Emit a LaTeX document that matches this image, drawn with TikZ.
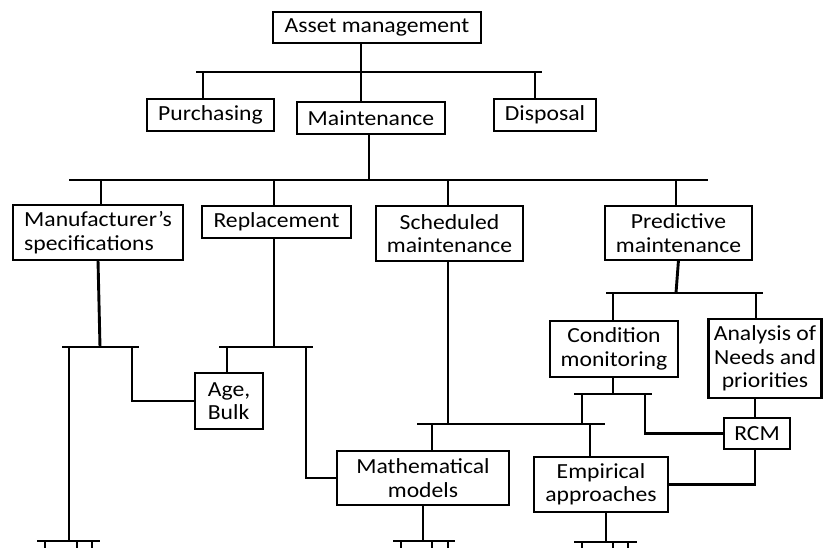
\documentclass[tikz,border=0pt]{standalone}
\usepackage{fontspec}
\setmainfont{Carlito}[FakeStretch=1.1]
\begin{document}
\begin{tikzpicture}[x=1pt,y=-1pt,
  box/.style={draw, line width=2.9pt, inner sep=0pt, outer sep=0pt, align=center,
              font=\fontsize{21.5}{23.5}\selectfont},
  link/.style={line width=2.9pt},
]
\useasboundingbox (0,0) rectangle (823,548);
\fill[white] (0,0) rectangle (823,548);

% boxes
\node[box, minimum width=208pt, minimum height=31pt] (asset) at (377,27.5) {Asset management};
\node[box, minimum width=127pt, minimum height=32pt] (purch) at (210.5,115) {Purchasing};
\node[box, minimum width=148pt, minimum height=32pt] (maint) at (371,118) {Maintenance};
\node[box, minimum width=102pt, minimum height=32pt] (disp) at (545,115) {Disposal};
\node[box, minimum width=170pt, minimum height=55pt, align=left] (manu) at (98,232.5) {Manufacturer’s\\specifications};
\node[box, minimum width=149pt, minimum height=32pt] (repl) at (276.5,222) {Replacement};
\node[box, minimum width=147pt, minimum height=55pt] (sched) at (449.5,233.5) {Scheduled\\maintenance};
\node[box, minimum width=147pt, minimum height=54pt] (pred) at (678.5,233) {Predictive\\maintenance};
\node[box, minimum width=128pt, minimum height=56pt] (cond) at (614,349) {Condition\\monitoring};
\node[box, minimum width=113pt, minimum height=79pt] (anal) at (765,358.5) {Analysis of\\Needs and\\priorities};
\node[box, minimum width=68pt, minimum height=56pt, align=left] (age) at (229,401) {Age,\\Bulk};
\node[box, minimum width=172pt, minimum height=54pt] (math) at (423,478) {Mathematical\\models};
\node[box, minimum width=134pt, minimum height=55pt] (emp) at (601,484.5) {Empirical\\approaches};
\node[box, minimum width=66pt, minimum height=31pt] (rcm) at (757,433.5) {RCM};

% junction points
\coordinate (L1a) at (196,72);  \coordinate (L1b) at (542,72);
\coordinate (L1m) at (361,72);  \coordinate (L1p) at (203,72);  \coordinate (L1d) at (535,72);
\coordinate (L2a) at (69,180);  \coordinate (L2b) at (708,180);
\coordinate (L2m) at (369,180);
\coordinate (L2f) at (101,180); \coordinate (L2r) at (274,180);
\coordinate (L2s) at (448,180); \coordinate (L2p) at (676,180);
\coordinate (M3) at (100,347);  \coordinate (M3a) at (62,347);  \coordinate (M3b) at (139,347);
\coordinate (M3l) at (69,347);  \coordinate (M3r) at (132,347);
\coordinate (R3) at (274,347);  \coordinate (R3a) at (219,347); \coordinate (R3b) at (313,347);
\coordinate (R3l) at (227,347); \coordinate (R3r) at (306,347);
\coordinate (S3) at (448,424);  \coordinate (S3a) at (417,424); \coordinate (S3b) at (605,424);
\coordinate (S3l) at (432,424); \coordinate (S3r) at (590,424);
\coordinate (P3) at (676,293);  \coordinate (P3a) at (606,293); \coordinate (P3b) at (763,293);
\coordinate (P3l) at (613,293); \coordinate (P3r) at (756,293);
\coordinate (C3) at (613,394);  \coordinate (C3a) at (574,394); \coordinate (C3b) at (652,394);
\coordinate (C3l) at (582,394); \coordinate (C3r) at (645,394);
\coordinate (A3) at (755,420);
% bottom rails
\coordinate (B1) at (69,541);   \coordinate (B1a) at (37,541);  \coordinate (B1b) at (100,541);
\coordinate (B2) at (423,541);  \coordinate (B2a) at (393,541); \coordinate (B2b) at (455,541);
\coordinate (B3) at (606,542);  \coordinate (B3a) at (574,542); \coordinate (B3b) at (637,542);

% top levels
\draw[link] (L1a) -- (L1b);
\draw[link] (L1m |- asset.south) -- (L1m |- maint.north);
\draw[link] (L1p) -- (L1p |- purch.north);
\draw[link] (L1d) -- (L1d |- disp.north);
\draw[link] (L2a) -- (L2b);
\draw[link] (L2m |- maint.south) -- (L2m);
\draw[link] (L2f) -- (L2f |- manu.north);
\draw[link] (L2r) -- (L2r |- repl.north);
\draw[link] (L2s) -- (L2s |- sched.north);
\draw[link] (L2p) -- (L2p |- pred.north);

% manufacturer's specifications branch
\draw[link] (manu.south) -- (M3);
\draw[link] (M3a) -- (M3b);
\draw[link] (M3l) -- (B1);
\draw[link] (M3r) |- (age.west);

% replacement branch
\draw[link] (R3 |- repl.south) -- (R3);
\draw[link] (R3a) -- (R3b);
\draw[link] (R3l) -- (R3l |- age.north);
\draw[link] (R3r) |- (math.west);

% scheduled maintenance branch
\draw[link] (S3 |- sched.south) -- (S3);
\draw[link] (S3a) -- (S3b);
\draw[link] (S3l) -- (S3l |- math.north);
\draw[link] (S3r) -- (S3r |- emp.north);

% predictive maintenance branch
\draw[link] (pred.south) -- (P3);
\draw[link] (P3a) -- (P3b);
\draw[link] (P3l) -- (P3l |- cond.north);
\draw[link] (P3r) -- (P3r |- anal.north);
\draw[link] (C3 |- cond.south) -- (C3);
\draw[link] (C3a) -- (C3b);
\draw[link] (C3l) -- (C3l |- S3);
\draw[link] (C3r) |- (rcm.west);
\draw[link] (A3 |- anal.south) -- (A3 |- rcm.north);
\draw[link] (A3 |- rcm.south) |- (emp.east);

% bottom rails with ticks
\draw[link] (B1a) -- (B1b);
\foreach \t in {45,77,92} \draw[link] (\t,541) -- (\t,548);
\draw[link] (math.south) -- (B2);
\draw[link] (B2a) -- (B2b);
\foreach \t in {401,432,448} \draw[link] (\t,541) -- (\t,548);
\draw[link] (B3 |- emp.south) -- (B3);
\draw[link] (B3a) -- (B3b);
\foreach \t in {582,613,628} \draw[link] (\t,542) -- (\t,548);
\end{tikzpicture}
\end{document}
